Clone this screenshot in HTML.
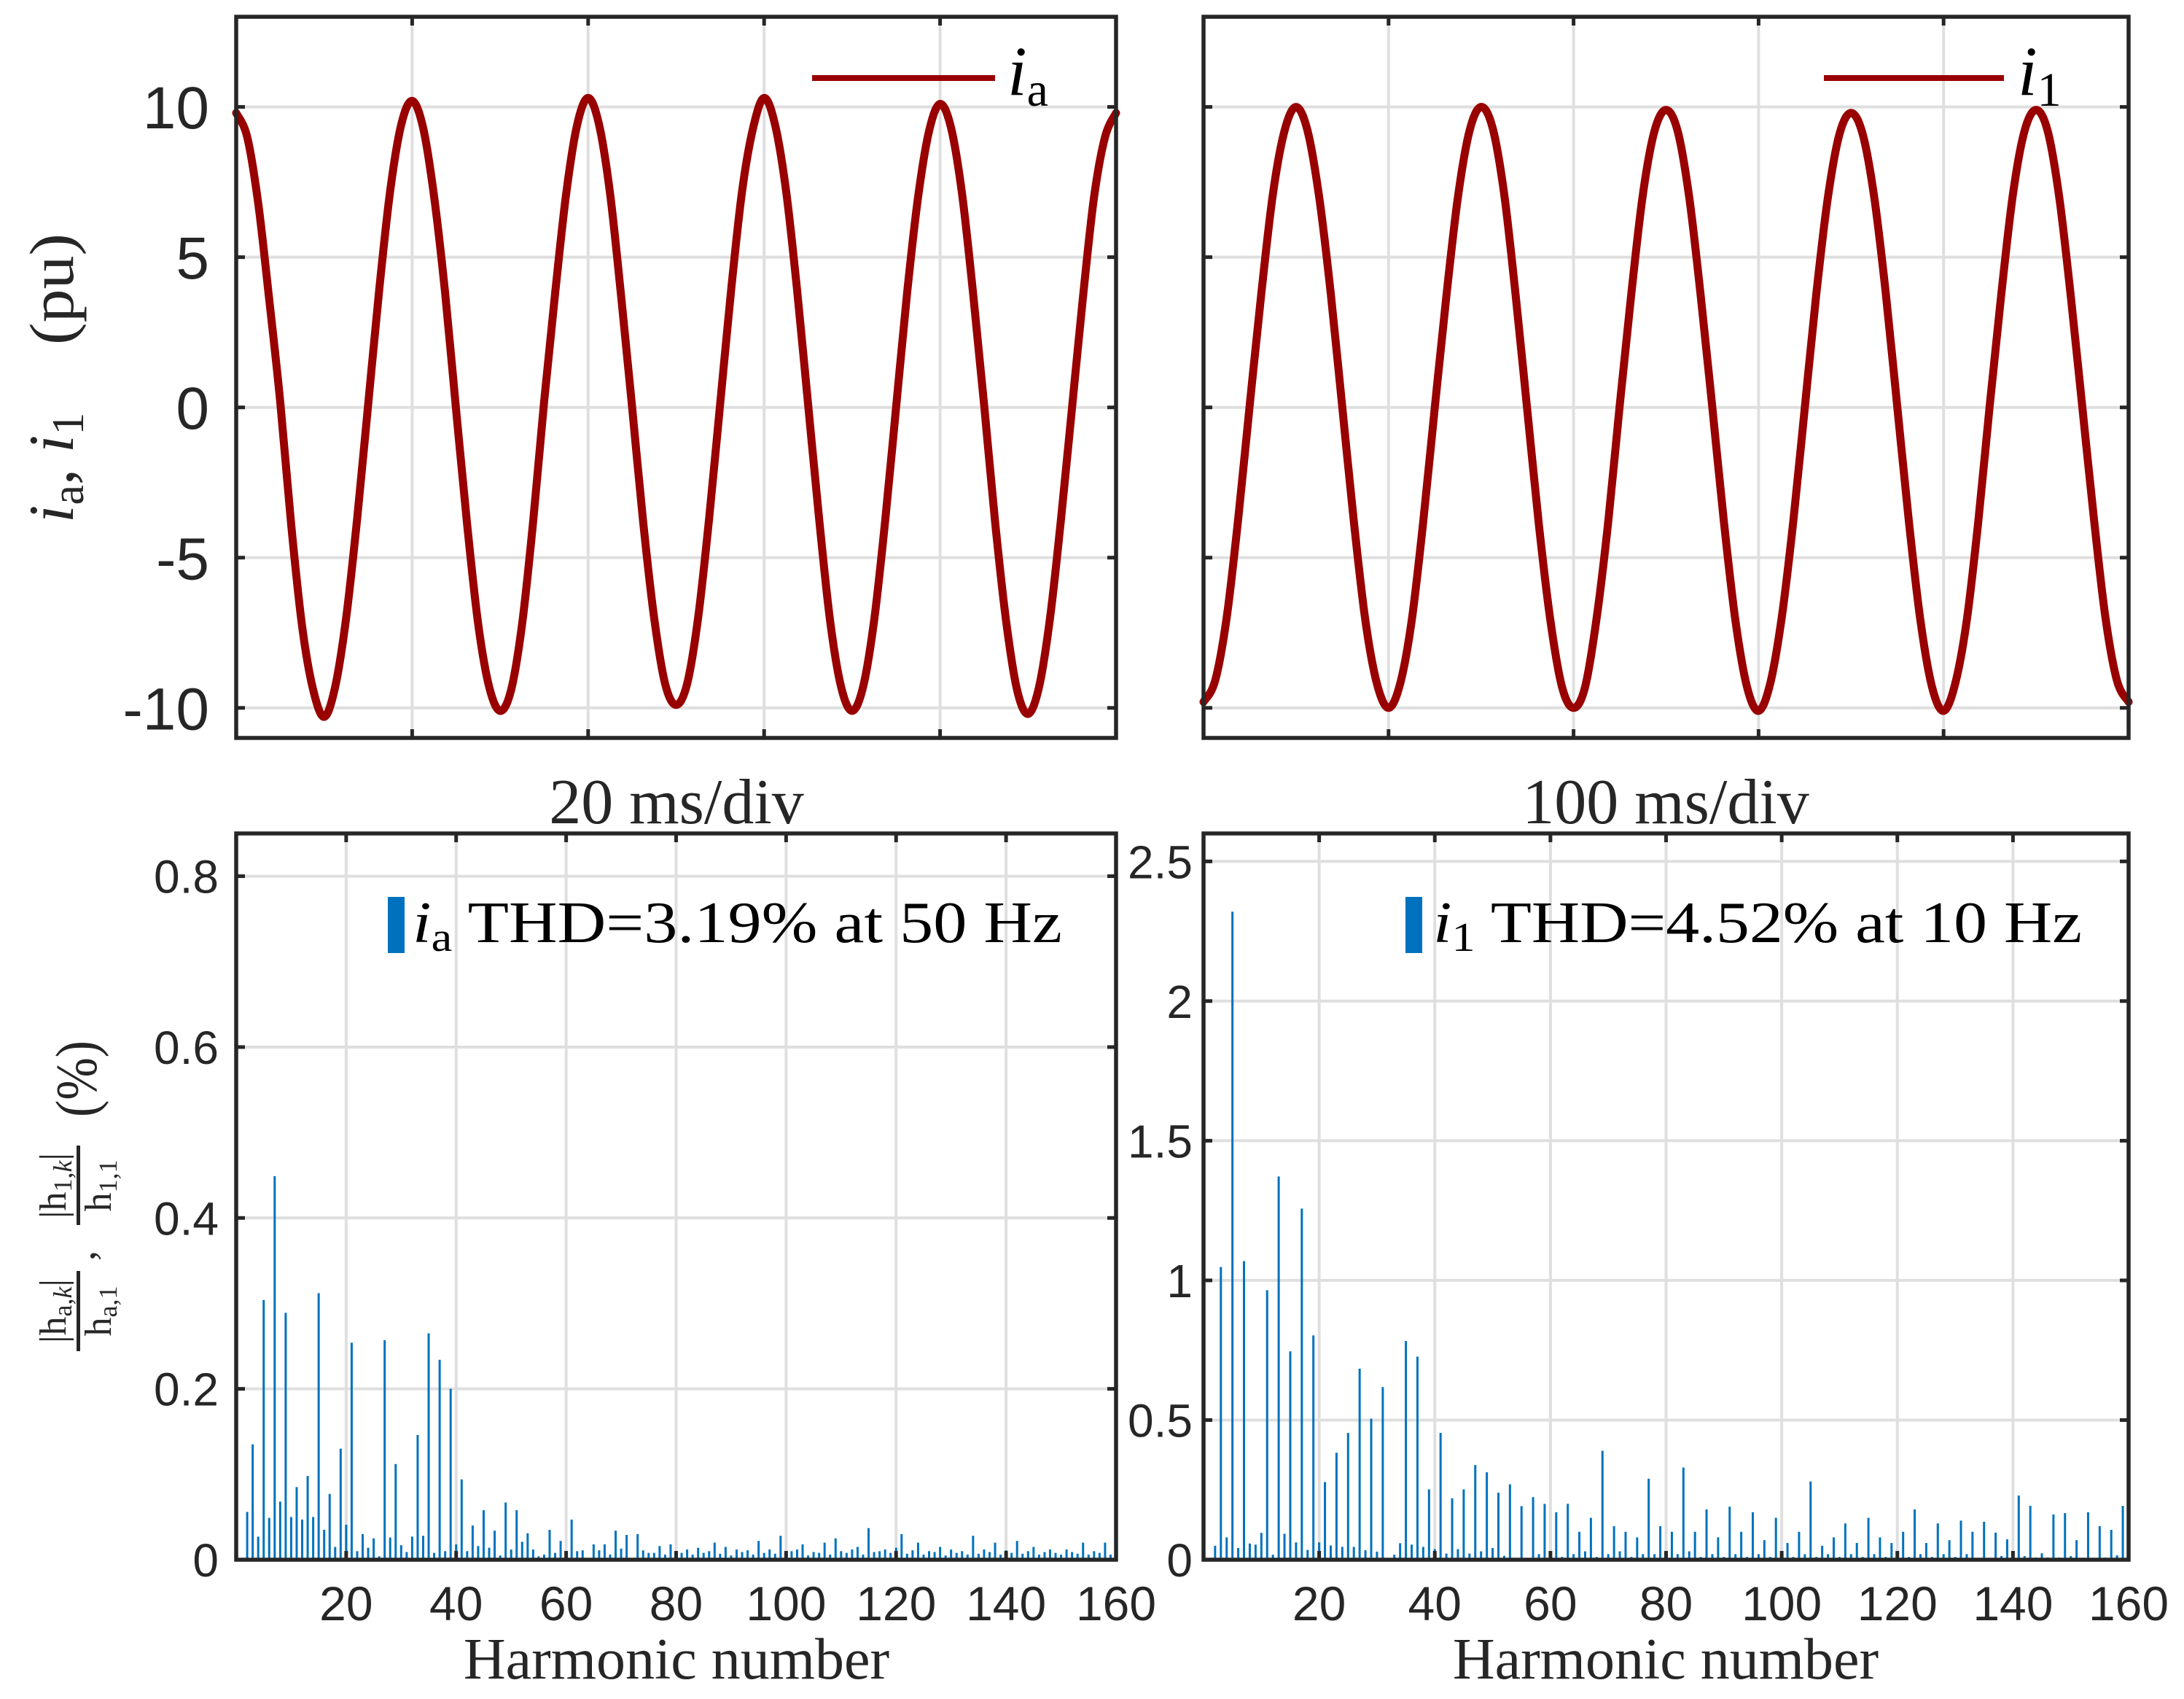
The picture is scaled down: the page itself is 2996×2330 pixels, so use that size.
<!DOCTYPE html>
<html><head><meta charset="utf-8"><title>Harmonic analysis</title>
<style>html,body{margin:0;padding:0;background:#fff}svg{display:block}</style></head>
<body>
<svg id="fig" xmlns="http://www.w3.org/2000/svg" width="2996" height="2330" viewBox="0 0 2996 2330">
<rect width="2996" height="2330" fill="#fff"/>
<g id="layer"></g>
<g transform="translate(100,717) rotate(-90)" font-family="Liberation Serif, serif" fill="#262626">
<text x="0" y="0" font-size="88"><tspan font-style="italic">i</tspan><tspan font-size="62" dy="14">a</tspan><tspan dy="-14">, </tspan><tspan font-style="italic">i</tspan><tspan font-size="62" dy="14">1</tspan></text>
<text x="244" y="0" font-size="86" textLength="153" lengthAdjust="spacingAndGlyphs">(pu)</text>
</g>
<text x="928" y="1129" text-anchor="middle" font-family="Liberation Serif, serif" font-size="88" fill="#262626">20 ms/div</text>
<text x="2285" y="1129" text-anchor="middle" font-family="Liberation Serif, serif" font-size="88" fill="#262626">100 ms/div</text>
<text x="928" y="2302" text-anchor="middle" font-family="Liberation Serif, serif" font-size="80" fill="#262626">Harmonic number</text>
<text x="2285" y="2302" text-anchor="middle" font-family="Liberation Serif, serif" font-size="80" fill="#262626">Harmonic number</text>
<g transform="translate(108,1853) rotate(-90)" font-family="Liberation Serif, serif" fill="#262626">
<text x="55" y="-18" font-size="52" text-anchor="middle">|h<tspan font-size="36" dy="8">a,<tspan font-style="italic">k</tspan></tspan><tspan dy="-8">|</tspan></text>
<rect x="0" y="-3" width="110" height="5" fill="#262626"/>
<text x="55" y="44" font-size="52" text-anchor="middle">h<tspan font-size="36" dy="8">a,1</tspan></text>
<text x="124" y="22" font-size="56">,</text>
<text x="227" y="-18" font-size="52" text-anchor="middle">|h<tspan font-size="36" dy="8">1,<tspan font-style="italic">k</tspan></tspan><tspan dy="-8">|</tspan></text>
<rect x="173" y="-3" width="109" height="5" fill="#262626"/>
<text x="227" y="44" font-size="52" text-anchor="middle">h<tspan font-size="36" dy="8">1,1</tspan></text>
<text x="321" y="24" font-size="80" textLength="105" lengthAdjust="spacingAndGlyphs">(%)</text>
</g>
</svg>
<script>
const waveTL = [9.8,9.0,6.8,3.6,0.2,-3.9,-7.3,-9.4,-10.3,-9.3,-7.0,-3.7,0.1,3.9,7.2,9.4,
10.2,9.3,7.0,3.8,-0.1,-3.9,-7.2,-9.3,-10.1,-9.4,-7.2,-3.8,0.2,3.8,7.1,9.4,
10.3,9.4,7.1,3.7,0.0,-3.8,-7.0,-9.2,-9.9,-9.2,-7.0,-3.7,0.1,3.9,7.2,9.3,
10.3,9.4,7.2,3.9,0.1,-3.7,-7.1,-9.3,-10.1,-9.3,-7.1,-3.8,0.0,3.8,7.0,9.2,
10.1,9.3,7.1,3.8,0.1,-3.8,-7.1,-9.4,-10.2,-9.3,-7.0,-3.7,0.0,3.7,7.0,9.0,9.8];
const waveTR = [-9.8,-9.1,-7.0,-3.7,0.1,3.8,7.1,9.2,10.0,9.2,7.0,3.8,0.0,-3.8,-7.1,-9.2,
-10.0,-9.2,-7.1,-3.8,0.0,3.7,7.0,9.2,10.0,9.3,7.1,3.7,-0.1,-3.9,-7.1,-9.3,
-10.0,-9.3,-7.0,-3.8,0.1,3.8,7.1,9.2,9.9,9.2,7.0,3.7,0.0,-3.8,-7.1,-9.3,
-10.1,-9.2,-7.0,-3.8,0.0,3.8,7.0,9.1,9.8,9.1,7.0,3.8,0.0,-3.8,-7.1,-9.3,
-10.1,-9.2,-7.1,-3.8,0.1,3.8,7.1,9.2,9.9,9.2,7.0,3.7,0.0,-3.7,-7.0,-9.1,-9.8];
const harmA_first = 2;
const harmA = [0.056,0.135,0.027,0.304,0.049,0.449,0.068,0.289,0.05,0.085,0.047,0.098,0.05,0.312,0.035,0.077,0.015,0.13,0.041,0.254,
0.01,0.03,0.014,0.025,0.004,0.257,0.026,0.112,0.017,0.009,0.027,0.146,0.028,0.265,0.008,0.234,0.01,0.2,0.018,0.094,
0.01,0.04,0.016,0.058,0.014,0.034,0.005,0.067,0.012,0.058,0.021,0.031,0.012,0.004,0.006,0.035,0.008,0.022,0.009,0.047,
0.01,0.011,0.002,0.018,0.011,0.018,0.006,0.034,0.013,0.029,0.002,0.03,0.011,0.008,0.008,0.016,0.006,0.018,0.007,0.008,
0.012,0.006,0.014,0.008,0.01,0.02,0.007,0.015,0.005,0.012,0.009,0.011,0.006,0.022,0.008,0.012,0.007,0.028,0.006,0.01,
0.012,0.018,0.005,0.009,0.008,0.02,0.006,0.025,0.01,0.008,0.012,0.015,0.006,0.037,0.009,0.01,0.012,0.008,0.014,0.03,
0.007,0.011,0.02,0.006,0.01,0.009,0.015,0.005,0.012,0.008,0.01,0.006,0.028,0.007,0.012,0.009,0.02,0.006,0.011,0.008,
0.022,0.007,0.01,0.015,0.006,0.009,0.012,0.008,0.006,0.012,0.009,0.007,0.02,0.006,0.01,0.008,0.02,0.006,0.025];
const harm1_first = 2;
const harm1 = [0.05,1.048,0.08,2.32,0.042,1.069,0.058,0.054,0.096,0.965,0.018,1.372,0.093,0.746,0.062,1.257,0.035,0.803,0.062,0.278,
0.051,0.383,0.046,0.454,0.046,0.684,0.034,0.505,0.029,0.618,0.0,0.018,0.059,0.783,0.054,0.727,0.046,0.252,0.038,0.454,
0.022,0.22,0.038,0.252,0.022,0.339,0.03,0.313,0.042,0.24,0.014,0.27,0.006,0.192,0.003,0.224,
0.02,0.2,0.03,0.17,0.01,0.2,0.02,0.1,0.03,0.15,0.01,0.39,0.02,0.12,0.03,0.1,0.01,0.08,0.02,0.29,
0.02,0.12,0.01,0.1,0.02,0.33,0.03,0.1,0.01,0.18,0.02,0.08,0.01,0.19,0.02,0.1,0.01,0.17,0.02,0.07,
0.01,0.15,0.02,0.06,0.01,0.1,0.02,0.28,0.01,0.05,0.02,0.08,0.01,0.13,0.02,0.06,0.01,0.15,0.02,0.08,
0.01,0.06,0.02,0.1,0.01,0.18,0.02,0.06,0.01,0.13,0.02,0.07,0.01,0.14,0.02,0.1,0.005,0.136,0.003,0.097,
0.013,0.073,0.017,0.23,0.013,0.193,0.008,0.023,0.008,0.162,0.008,0.167,0.013,0.07,0.005,0.17,0.003,0.12,
0.008,0.107,0.016,0.193,0.0];
const topYTicks = [10,5,0,-5,-10];
const topYTickLabels = ["10","5","0","-5","-10"];
const blYTicks = [0,0.2,0.4,0.6,0.8];
const blYTickLabels = ["0","0.2","0.4","0.6","0.8"];
const brYTicks = [0,0.5,1,1.5,2,2.5];
const brYTickLabels = ["0","0.5","1","1.5","2","2.5"];
const harmXTicks = [20,40,60,80,100,120,140,160];
const harmXTickLabels = ["20","40","60","80","100","120","140","160"];

const NS = "http://www.w3.org/2000/svg";
const layer = document.getElementById('layer');
const AX = "#262626", GRID = "#dfdfdf", RED = "#990000", BLUE = "#0072BD";
function el(tag, attrs, parent) {
  const e = document.createElementNS(NS, tag);
  for (const k in attrs) e.setAttribute(k, attrs[k]);
  (parent || layer).appendChild(e);
  return e;
}
function makeAxes(name, box, xlim, ylim) {
  const g = el('g', {});
  
  
  const sx = v => box.x0 + (v - xlim[0]) / (xlim[1] - xlim[0]) * (box.x1 - box.x0);
  const sy = v => box.y1 - (v - ylim[0]) / (ylim[1] - ylim[0]) * (box.y1 - box.y0);
  return {g, sx, sy, box};
}
function grid(ax, xs, ys) {
  const gg = el('g', {}, ax.g);
  
  
  xs.forEach(v => el('line', {x1: ax.sx(v), x2: ax.sx(v), y1: ax.box.y0, y2: ax.box.y1, stroke: GRID, 'stroke-width': 4}, gg));
  ys.forEach(v => el('line', {x1: ax.box.x0, x2: ax.box.x1, y1: ax.sy(v), y2: ax.sy(v), stroke: GRID, 'stroke-width': 4}, gg));
}
function frame(ax, xs, ys) {
  const b = ax.box;
  const fg = el('g', {}, ax.g);
  
  
  const L = 12;
  xs.forEach(v => {
    el('line', {x1: ax.sx(v), x2: ax.sx(v), y1: b.y1, y2: b.y1 - L, stroke: AX, 'stroke-width': 5}, fg);
    el('line', {x1: ax.sx(v), x2: ax.sx(v), y1: b.y0, y2: b.y0 + L, stroke: AX, 'stroke-width': 5}, fg);
  });
  ys.forEach(v => {
    el('line', {x1: b.x0, x2: b.x0 + L, y1: ax.sy(v), y2: ax.sy(v), stroke: AX, 'stroke-width': 5}, fg);
    el('line', {x1: b.x1, x2: b.x1 - L, y1: ax.sy(v), y2: ax.sy(v), stroke: AX, 'stroke-width': 5}, fg);
  });
  el('rect', {x: b.x0, y: b.y0, width: b.x1 - b.x0, height: b.y1 - b.y0, fill: 'none', stroke: AX, 'stroke-width': 5.5}, fg);
}
function yLabels(ax, ticks, labels, xr, fs) {
  ticks.forEach((v, i) => {
    const t = el('text', {x: xr, y: ax.sy(v) + fs * 0.36, 'text-anchor': 'end', 'font-family': 'Liberation Sans, sans-serif', 'font-size': fs, fill: AX}, ax.g);
    
    
    t.textContent = labels[i];
  });
}
function xLabels(ax, ticks, labels, y, fs) {
  ticks.forEach((v, i) => {
    const t = el('text', {x: ax.sx(v), y: y, 'text-anchor': 'middle', 'font-family': 'Liberation Sans, sans-serif', 'font-size': fs, fill: AX}, ax.g);
    
    
    t.textContent = labels[i];
  });
}
function wave(ax, data, name) {
  const n = data.length - 1;
  const pts = data.map((v, i) => [ax.sx(i / n * 5), ax.sy(v)]);
  let d = `M${pts[0][0]},${pts[0][1]}`;
  for (let i = 0; i < n; i++) {
    const p0 = pts[Math.max(0, i - 1)], p1 = pts[i], p2 = pts[i + 1], p3 = pts[Math.min(n, i + 2)];
    const c1 = [p1[0] + (p2[0] - p0[0]) / 6, p1[1] + (p2[1] - p0[1]) / 6];
    const c2 = [p2[0] - (p3[0] - p1[0]) / 6, p2[1] - (p3[1] - p1[1]) / 6];
    d += ` C${c1[0]},${c1[1]} ${c2[0]},${c2[1]} ${p2[0]},${p2[1]}`;
  }
  const p = el('path', {d: d, fill: 'none', stroke: RED, 'stroke-width': 11, 'stroke-linejoin': 'round', 'stroke-linecap': 'round'}, ax.g);
  
  
}
function bars(ax, data, first, name) {
  const bg = el('g', {}, ax.g);
  
  
  data.forEach((v, i) => {
    const h = first + i;
    const y = ax.sy(v), y0 = ax.sy(0);
    const r = el('rect', {x: ax.sx(h) - 1.5, y: y, width: 3, height: Math.max(0, y0 - y), fill: BLUE}, bg);
    
    
  });
}
function lineLegend(ax, x0, x1, y, tx, sub, name) {
  const lg = el('g', {}, ax.g);
  
  
  el('line', {x1: x0, x2: x1, y1: y, y2: y, stroke: RED, 'stroke-width': 8}, lg);
  const t = el('text', {x: tx, y: 130, 'font-family': 'Liberation Serif, serif', 'font-size': 96, fill: '#000'}, lg);
  t.innerHTML = `<tspan font-style="italic">i</tspan><tspan font-size="66" dy="15">${sub}</tspan>`;
}
function barLegend(ax, rx, tx, tlen, sub, rest, name) {
  const lg = el('g', {}, ax.g);
  
  
  el('rect', {x: rx, y: 1230, width: 23, height: 77, fill: BLUE}, lg);
  const t = el('text', {x: tx, y: 1292, 'font-family': 'Liberation Serif, serif', 'font-size': 80, fill: '#000', textLength: tlen, lengthAdjust: 'spacingAndGlyphs'}, lg);
  t.innerHTML = `<tspan font-style="italic">i</tspan><tspan font-size="56" dy="12">${sub}</tspan><tspan dy="-12"> ${rest}</tspan>`;
}

const divInner = [1,2,3,4];
const tl = makeAxes('top-left-waveform-axes', {x0: 324, x1: 1531, y0: 23, y1: 1012}, [0,5], [-11,13]);
grid(tl, divInner, topYTicks);
wave(tl, waveTL, 'ia-waveform-line');
frame(tl, divInner, topYTicks);
yLabels(tl, topYTicks, topYTickLabels, 287, 82);
lineLegend(tl, 1114, 1365, 107, 1382, 'a', 'legend-ia');
const tr = makeAxes('top-right-waveform-axes', {x0: 1651, x1: 2920, y0: 23, y1: 1012}, [0,5], [-11,13]);
grid(tr, divInner, topYTicks);
wave(tr, waveTR, 'i1-waveform-line');
frame(tr, divInner, topYTicks);
lineLegend(tr, 2502, 2749, 107, 2768, '1', 'legend-i1');
const bl = makeAxes('bottom-left-spectrum-axes', {x0: 324, x1: 1531, y0: 1143, y1: 2139}, [0,160], [0,0.85]);
grid(bl, harmXTicks, blYTicks);
bars(bl, harmA, harmA_first, 'ia-harmonic-bars');
frame(bl, harmXTicks, blYTicks);
yLabels(bl, blYTicks, blYTickLabels, 300, 64);
xLabels(bl, harmXTicks, harmXTickLabels, 2222, 66);
barLegend(bl, 532, 566, 891, 'a', 'THD=3.19% at 50 Hz', 'legend-ia-thd');
const br = makeAxes('bottom-right-spectrum-axes', {x0: 1651, x1: 2920, y0: 1143, y1: 2139}, [0,160], [0,2.6]);
grid(br, harmXTicks, brYTicks);
bars(br, harm1, harm1_first, 'i1-harmonic-bars');
frame(br, harmXTicks, brYTicks);
yLabels(br, brYTicks, brYTickLabels, 1636, 64);
xLabels(br, harmXTicks, harmXTickLabels, 2222, 66);
barLegend(br, 1928, 1966, 890, '1', 'THD=4.52% at 10 Hz', 'legend-i1-thd');
</script>
</body></html>
